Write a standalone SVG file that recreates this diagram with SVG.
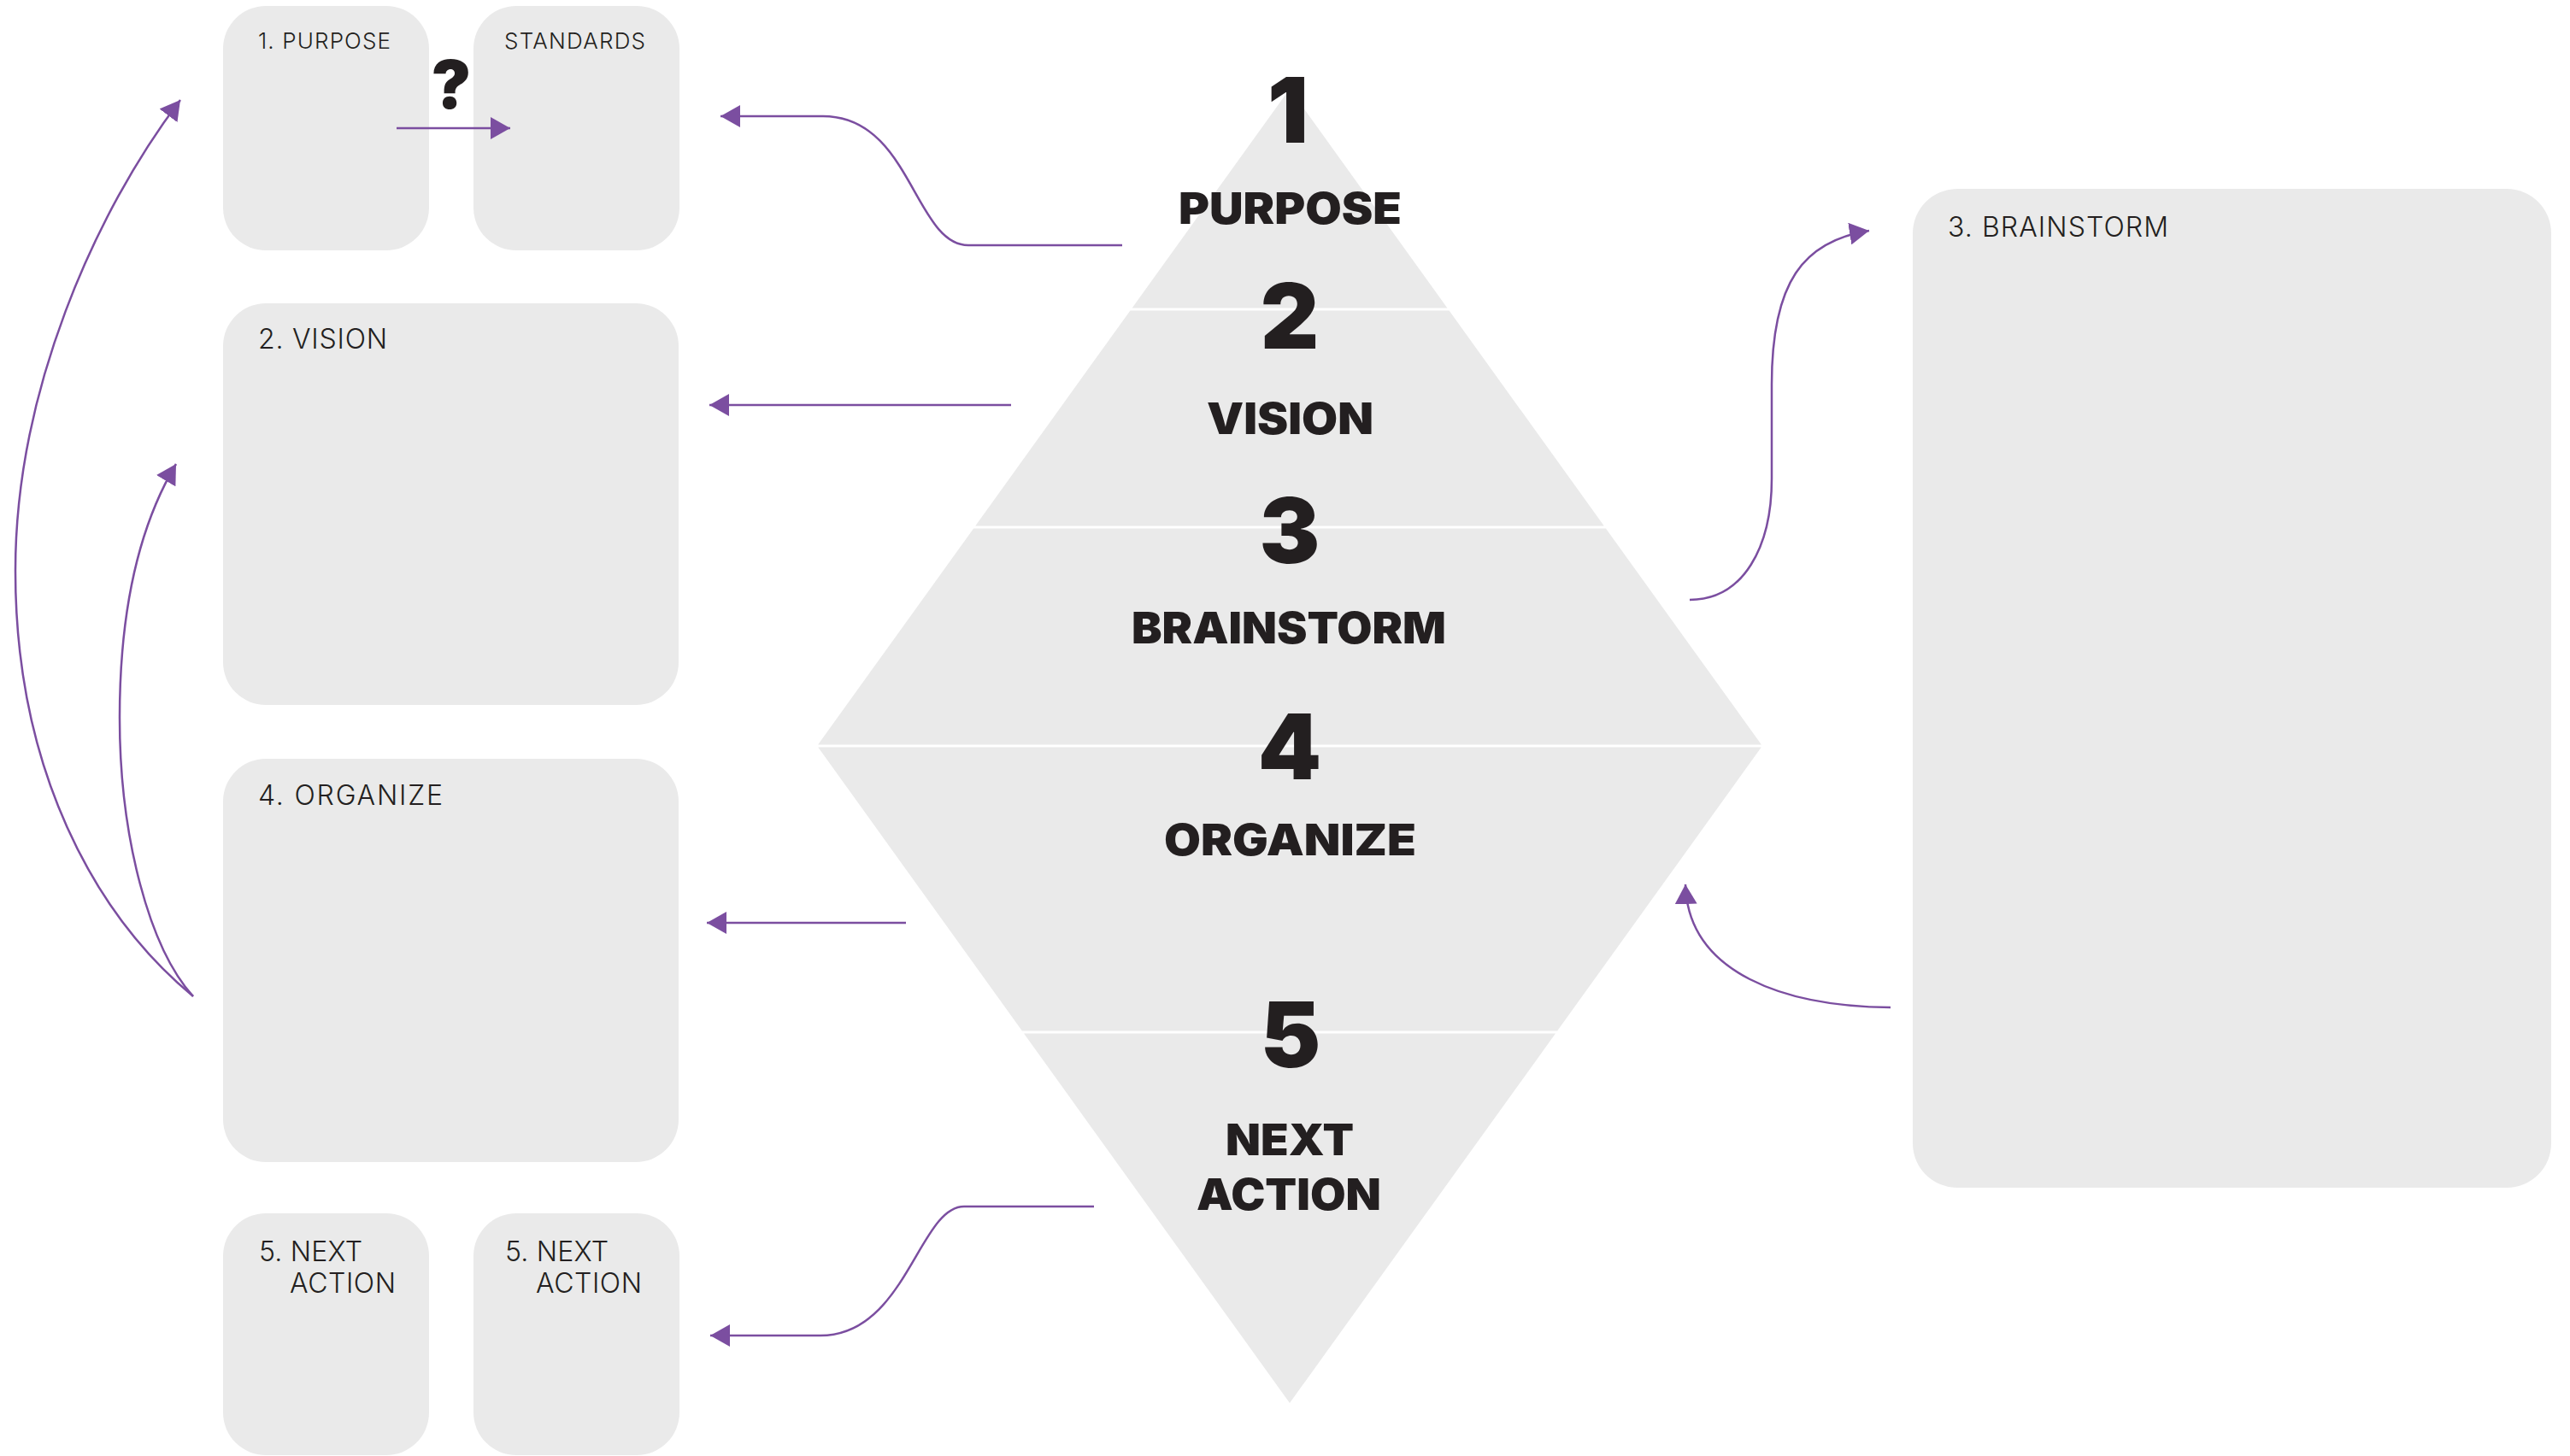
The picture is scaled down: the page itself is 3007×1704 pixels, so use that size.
<svg xmlns="http://www.w3.org/2000/svg" width="3007" height="1704" viewBox="0 0 3007 1704">
<style>
.box{fill:#EAEAEA}
.band{fill:#EAEAEA}
.lbl{font-family:Inter,"Liberation Sans",sans-serif;font-weight:300;fill:#231F20}
.s26{font-size:26px}
.s32{font-size:32px}
.big{font-family:Inter,"Liberation Sans",sans-serif;font-weight:900;fill:#231F20;text-anchor:middle}
.num{font-size:106px}
.word{font-size:51px}
.con{fill:none;stroke:#7B4EA0;stroke-width:2.5;marker-end:url(#ah)}
</style>
<defs>
<marker id="ah" markerUnits="userSpaceOnUse" markerWidth="24" markerHeight="26" refX="23" refY="13" orient="auto">
<path d="M0,0 L23,13 L0,26 Z" fill="#7B4EA0"/>
</marker>
</defs>
<rect width="3007" height="1704" fill="#FFFFFF"/>

<g id="box-purpose">
<rect class="box" x="261" y="7" width="241" height="286" rx="50"/>
<text class="lbl s26" x="302" y="57" textLength="155">1. PURPOSE</text>
</g>
<g id="box-standards">
<rect class="box" x="554" y="7" width="241" height="286" rx="50"/>
<text class="lbl s26" x="590" y="57" textLength="165">STANDARDS</text>
</g>
<g id="question">
<text class="big" x="528" y="127" font-size="78">?</text>
</g>
<g id="box-vision">
<rect class="box" x="261" y="355" width="533" height="470" rx="50"/>
<text class="lbl s32" x="302" y="408" textLength="151">2. VISION</text>
</g>
<g id="box-organize">
<rect class="box" x="261" y="888" width="533" height="472" rx="50"/>
<text class="lbl s32" x="302" y="942" textLength="216">4. ORGANIZE</text>
</g>
<g id="box-next-1">
<rect class="box" x="261" y="1420" width="241" height="283" rx="50"/>
<text class="lbl s32" x="303" y="1476" textLength="121">5. NEXT</text>
<text class="lbl s32" x="339" y="1513" textLength="124">ACTION</text>
</g>
<g id="box-next-2">
<rect class="box" x="554" y="1420" width="241" height="283" rx="50"/>
<text class="lbl s32" x="591" y="1476" textLength="121">5. NEXT</text>
<text class="lbl s32" x="627" y="1513" textLength="124">ACTION</text>
</g>
<g id="box-brainstorm">
<rect class="box" x="2238" y="221" width="747" height="1169" rx="52"/>
<text class="lbl s32" x="2279" y="277" textLength="258">3. BRAINSTORM</text>
</g>

<g id="level-1">
<polygon class="band" points="1509,104 1693.4,360.5 1324.6,360.5"/>
<text class="big num" x="1507" y="167">1</text>
<text class="big word" x="1509.5" y="262" textLength="261" lengthAdjust="spacingAndGlyphs">PURPOSE</text>
</g>
<g id="level-2">
<polygon class="band" points="1322.4,363.5 1695.6,363.5 1876.8,615.5 1141.2,615.5"/>
<text class="big num" x="1509" y="408">2</text>
<text class="big word" x="1509.5" y="508" textLength="195" lengthAdjust="spacingAndGlyphs">VISION</text>
</g>
<g id="level-3">
<polygon class="band" points="1139.1,618.5 1878.9,618.5 2060.9,871.5 957.1,871.5"/>
<text class="big num" x="1509" y="659">3</text>
<text class="big word" x="1508" y="753" textLength="368" lengthAdjust="spacingAndGlyphs">BRAINSTORM</text>
</g>
<g id="level-4">
<polygon class="band" points="957.2,874.5 2060.8,874.5 1822.1,1206.5 1195.9,1206.5"/>
<text class="big num" x="1509" y="912">4</text>
<text class="big word" x="1509.5" y="1001" textLength="295" lengthAdjust="spacingAndGlyphs">ORGANIZE</text>
</g>
<g id="level-5">
<polygon class="band" points="1198,1209.5 1820,1209.5 1509,1642"/>
<text class="big num" x="1510" y="1249">5</text>
<text class="big word" x="1509" y="1352" textLength="150" lengthAdjust="spacingAndGlyphs">NEXT</text>
<text class="big word" x="1508" y="1416" textLength="216" lengthAdjust="spacingAndGlyphs">ACTION</text>
</g>

<g id="connectors">
<path class="con" d="M464,150 H597"/>
<path class="con" d="M1313,287 H1133 C1070,287 1066,136 963,136 H843"/>
<path class="con" d="M1183,474 H830"/>
<path class="con" d="M1060,1080 H827"/>
<path class="con" d="M1280,1412 H1128 C1075,1412 1060,1563 960,1563 H831"/>
<path class="con" d="M1977,702 C2040,702 2073,640 2073,560 L2073,450 C2073,330 2110,282 2187,270"/>
<path class="con" d="M2212,1179 C2090,1178 1975,1140 1972,1035"/>
<path class="con" d="M226,1166 C110,1070 18,900 18,668 C18,460 110,250 211,117"/>
<path class="con" d="M226,1166 C175,1110 140,980 140,840 C140,720 160,620 206,543"/>
</g>
</svg>
